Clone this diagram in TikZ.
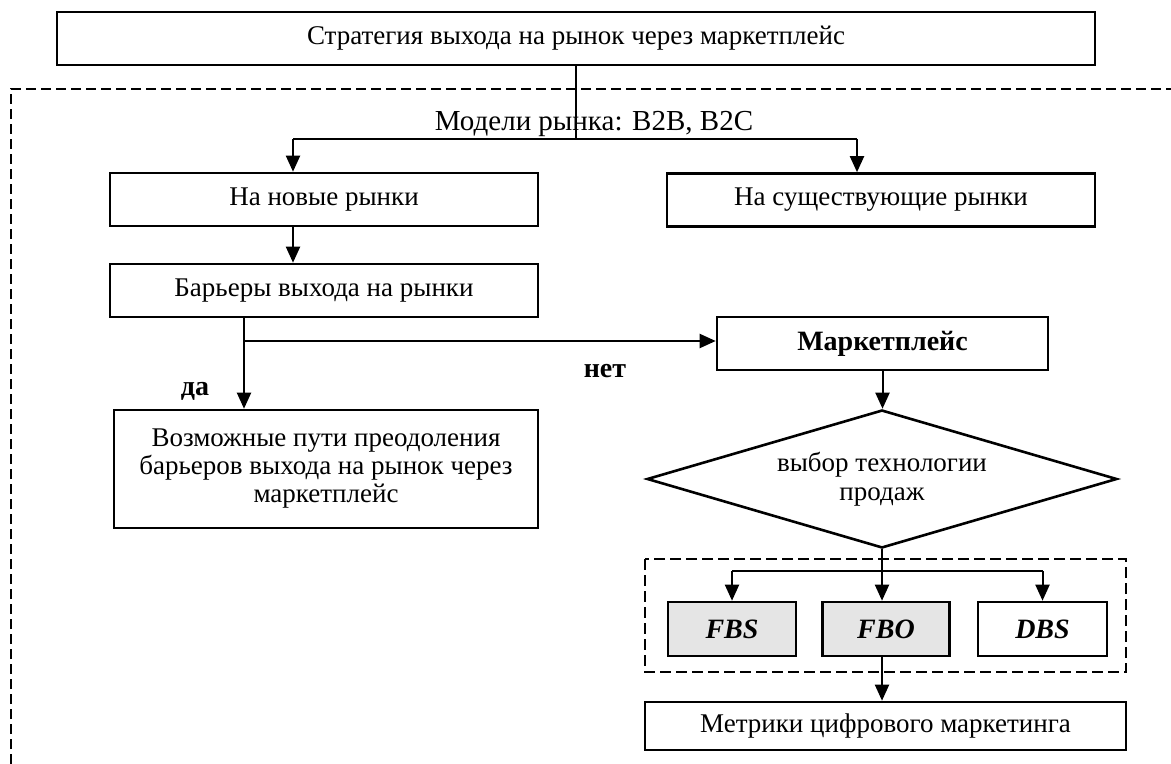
\documentclass[tikz,border=0pt]{standalone}
\usepackage{fontspec}
\setmainfont{Liberation Serif}
\usetikzlibrary{arrows.meta,shapes.geometric}

\begin{document}
\begin{tikzpicture}[x=0.5pt, y=-0.5pt,
    font=\fontsize{13.5}{14.5}\selectfont,
    box/.style={draw, line width=1.3pt, inner sep=0pt, align=center, minimum height=26.5pt},
    grey/.style={box, fill=black!10, font=\fontsize{14}{15}\selectfont\bfseries\itshape},
    arr/.style={-{Triangle[length=8pt, width=7pt]}, line width=1pt},
    link/.style={line width=1pt}]
    \useasboundingbox (0,0) rectangle (1171,764);

    % top level
    \node[box, minimum width=519pt] (strat) at (576,38.5) {Стратегия выхода на рынок через маркетплейс};
    \draw[dashed, line width=1pt, dash pattern=on 5pt off 2.5pt] (11,764) -- (11,89) -- (1171,89);
    \node (models) at (594,124) {\fontsize{14.5}{15}\selectfont Модели рынка: B2B, B2C};
    \coordinate (splitL) at (293,139);
    \coordinate (splitR) at (857,139);
    \draw[link] (strat.south) -- (strat.south |- splitL);
    \draw[link] (splitL) -- (splitR);

    % markets
    \node[box, minimum width=214pt] (new) at (324,199.5) {На новые рынки};
    \node[box, minimum width=214pt] (exist) at (881,200) {На существующие рынки};
    \draw[arr] (splitL) -- (splitL |- new.north);
    \draw[arr] (splitR) -- (splitR |- exist.north);

    \node[box, minimum width=214pt] (barrier) at (324,290.5) {Барьеры выхода на рынки};
    \draw[arr] (splitL |- new.south) -- (splitL |- barrier.north);

    % yes / no
    \coordinate (fork) at (244,341);
    \node[box, minimum width=212pt, minimum height=59pt, font=\fontsize{13.5}{14}\selectfont] (ways) at (326,469)
        {Возможные пути преодоления\\ барьеров выхода на рынок через\\ маркетплейс};
    \node[box, minimum width=165.5pt, font=\fontsize{14}{15}\selectfont\bfseries] (market) at (882.5,343.5) {Маркетплейс};
    \draw[link] (fork |- barrier.south) -- (fork);
    \draw[arr] (fork) -- (fork |- ways.north);
    \draw[arr] (fork) -- (fork -| market.west);
    \node[font=\fontsize{14}{15}\selectfont\bfseries] (yes) at (195,391) {да};
    \node[font=\fontsize{14}{15}\selectfont\bfseries] (no) at (605,371) {нет};

    % choice of technology
    \node[draw, diamond, line width=1.3pt, inner sep=0pt, aspect=3.4, align=center,
        minimum width=235pt, minimum height=69pt] (choice) at (882,479)
        {выбор технологии\\ продаж};
    \draw[arr] (market.south) -- (market.south |- choice.north);

    \draw[dashed, line width=1.4pt, dash pattern=on 5.5pt off 2.5pt] (645,559) rectangle (1126,672);
    \node[grey, minimum width=64pt, minimum height=27pt] (fbs) at (732,629) {FBS};
    \node[grey, minimum width=63.5pt, minimum height=27pt] (fbo) at (886,629) {FBO};
    \node[box, minimum width=64.5pt, minimum height=27pt, font=\fontsize{14}{15}\selectfont\bfseries\itshape] (dbs) at (1042.5,629) {DBS};
    \coordinate (techL) at (732,571);
    \coordinate (techR) at (1042.5,571);
    \draw[link] (techL) -- (techR);
    \draw[arr] (choice.south) -- (choice.south |- fbo.north);
    \draw[arr] (techL) -- (fbs.north);
    \draw[arr] (techR) -- (dbs.north);

    \node[box, minimum width=240.5pt, minimum height=24pt] (metrics) at (885.5,726) {Метрики цифрового маркетинга};
    \draw[arr] (choice.south |- fbo.south) -- (choice.south |- metrics.north);
\end{tikzpicture}
\end{document}
